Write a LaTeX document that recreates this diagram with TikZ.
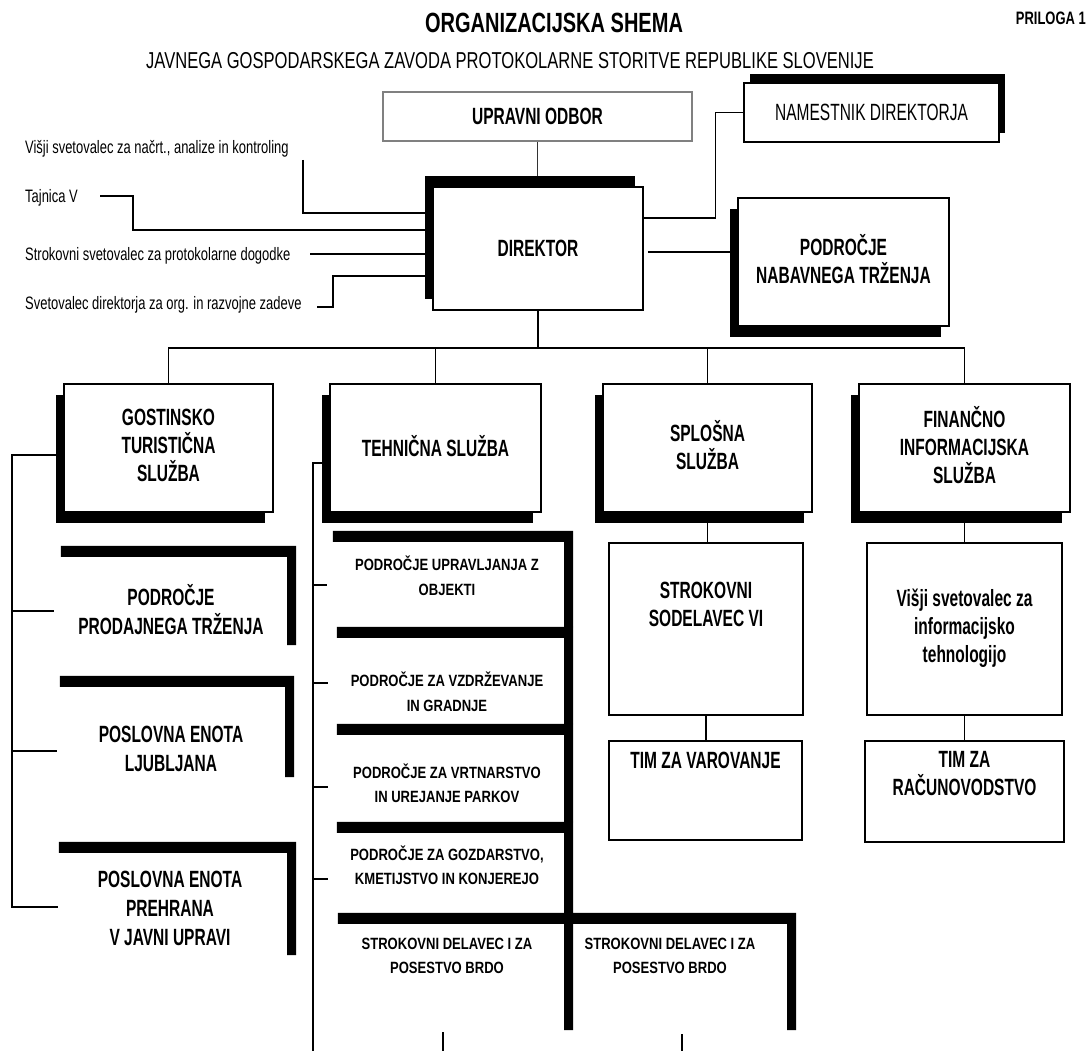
\documentclass[tikz,border=0pt]{standalone}
\usepackage{fontspec}
\setmainfont{Liberation Sans}[FakeStretch=0.72]
\newfontfamily\cellfont{Liberation Sans}[FakeStretch=0.8]
\newfontfamily\boxfont{Liberation Sans}[FakeStretch=0.66]
\usetikzlibrary{shadows,calc}
\pgfdeclarelayer{bg}
\pgfsetlayers{bg,main}
\newcommand\tstr{\rule{0pt}{0.97em}}
\newcommand\bstr{\rule[-0.25em]{0pt}{0.25em}}
\newcommand\lfr[1]{\fill (#1.north west) -- (#1.north east) -- (#1.south east) -- ++(-9,0) |- ($(#1.north west)+(0,11)$) -- cycle;}
\begin{document}
\begin{tikzpicture}[x=1pt,y=-1pt,
  ln/.style={line width=1.3pt},
  txt/.style={inner sep=0pt, align=center, execute at begin node=\tstr, execute at end node=\bstr},
  bigf/.style={font=\boxfont\bfseries\fontsize{23.5}{28}\selectfont},
  lfrf/.style={font=\boxfont\bfseries\fontsize{23.5}{29}\selectfont},
  regf/.style={font=\boxfont\fontsize{23.5}{28}\selectfont},
  labf/.style={font=\fontsize{18}{20}\selectfont},
  cellf/.style={font=\cellfont\bfseries\fontsize{16.3}{24.5}\selectfont},
  wbox/.style={draw, line width=1.5pt, fill=white, inner sep=0pt, align=center, execute at begin node=\tstr, execute at end node=\bstr},
  shdown/.style={drop shadow={shadow xshift=-8pt, shadow yshift=-11pt, fill=black, opacity=1}},
  shupleft/.style={drop shadow={shadow xshift=-8pt, shadow yshift=11pt, fill=black, opacity=1}},
  shupright/.style={drop shadow={shadow xshift=6pt, shadow yshift=9pt, fill=black, opacity=1}},
  fr/.style={inner sep=0pt}
]
\useasboundingbox (0,0) rectangle (1088,1051);

% titles
\node[txt, font=\bfseries\fontsize{27.8}{30}\selectfont] (title) at (554,22) {ORGANIZACIJSKA SHEMA};
\node[txt, anchor=east, font=\bfseries\fontsize{18}{20}\selectfont] (pril) at (1086,18) {PRILOGA 1};
\node[txt, font=\fontsize{23}{25}\selectfont] (sub) at (510,60) {JAVNEGA GOSPODARSKEGA ZAVODA PROTOKOLARNE STORITVE REPUBLIKE SLOVENIJE};

% top boxes
\node[wbox, draw=gray, line width=1.2pt, minimum width=309pt, minimum height=49pt, bigf] (upr) at (537.5,116.5) {UPRAVNI ODBOR};
\node[wbox, shupright, minimum width=255pt, minimum height=59pt, regf] (nam) at (871.5,112.5) {NAMESTNIK DIREKTORJA};
\node[wbox, shupleft, minimum width=210pt, minimum height=123pt, bigf] (dir) at (538,248.5) {DIREKTOR};
\node[wbox, shdown, minimum width=211pt, minimum height=128pt, bigf] (nab) at (843.5,262) {PODROČJE\\NABAVNEGA TRŽENJA};

% left labels
\node[txt, anchor=west, labf] (l1) at (25,147) {Višji svetovalec za načrt., analize in kontroling};
\node[txt, anchor=west, labf] (l2) at (25,196) {Tajnica V};
\node[txt, anchor=west, labf] (l3) at (25,254) {Strokovni svetovalec za protokolarne dogodke};
\node[txt, anchor=west, labf] (l4) at (25,303) {Svetovalec direktorja za org. in razvojne zadeve};

% services
\node[wbox, shdown, minimum width=209pt, minimum height=128pt, bigf] (gos) at (168.5,448) {GOSTINSKO\\TURISTIČNA\\SLUŽBA};
\node[wbox, shdown, minimum width=211pt, minimum height=128pt, bigf] (teh) at (435.5,448) {TEHNIČNA SLUŽBA};
\node[wbox, shdown, minimum width=209pt, minimum height=128pt, bigf] (spl) at (707.5,448) {SPLOŠNA\\SLUŽBA};
\node[wbox, shdown, minimum width=211pt, minimum height=128pt, bigf] (fin) at (964.5,448) {FINANČNO\\INFORMACIJSKA\\SLUŽBA};

% right column boxes
\node[wbox, minimum width=194pt, minimum height=172pt] (sod) at (706,629) {};
\node[txt, bigf] (sodt) at (706,607.5) {STROKOVNI\\SODELAVEC VI};
\node[wbox, minimum width=193pt, minimum height=99pt] (tvar) at (705.5,790.5) {};
\node[txt, bigf] (tvart) at (705.5,760) {TIM ZA VAROVANJE};
\node[wbox, minimum width=195pt, minimum height=172pt, bigf] (vis) at (964.5,629) {Višji svetovalec za\\informacijsko\\tehnologijo};
\node[wbox, minimum width=199pt, minimum height=101pt] (trac) at (964.5,791.5) {};
\node[txt, bigf] (tract) at (964.5,776) {TIM ZA\\RAČUNOVODSTVO};

% left L-frames
\node[fr, minimum width=235pt, minimum height=99pt] (prodajf) at (178.5,595.5) {};
\node[fr, minimum width=234pt, minimum height=101pt] (ljubf) at (177,726.5) {};
\node[fr, minimum width=237pt, minimum height=113pt] (prehf) at (177.5,898.5) {};
\lfr{prodajf}\lfr{ljubf}\lfr{prehf}
\node[txt, lfrf] (prodaj) at (171,612.5) {PODROČJE\\PRODAJNEGA TRŽENJA};
\node[txt, lfrf] (ljub) at (171,752) {POSLOVNA ENOTA\\LJUBLJANA};
\node[txt, lfrf] (preh) at (170,911) {POSLOVNA ENOTA\\PREHRANA\\V JAVNI UPRAVI};

% technical service cells
\node[fr, minimum width=240pt, minimum height=96pt] (t1) at (453,579) {};
\node[fr, minimum width=236pt, minimum height=97pt] (t2) at (455,675.5) {};
\node[fr, minimum width=236pt, minimum height=98pt] (t3) at (455,773) {};
\node[fr, minimum width=236pt, minimum height=91pt] (t4) at (455,867.5) {};
\node[fr, minimum width=235pt, minimum height=117pt] (t5) at (455.5,971.5) {};
\node[fr, minimum width=223pt, minimum height=117pt] (t6) at (684.5,971.5) {};
\lfr{t1}\lfr{t2}\lfr{t3}\lfr{t4}\lfr{t5}\lfr{t6}
\node[txt, cellf] (t1t) at (447,577.5) {PODROČJE UPRAVLJANJA Z\\OBJEKTI};
\node[txt, cellf] (t2t) at (447,693.5) {PODROČJE ZA VZDRŽEVANJE\\IN GRADNJE};
\node[txt, cellf] (t3t) at (447,785) {PODROČJE ZA VRTNARSTVO\\IN UREJANJE PARKOV};
\node[txt, cellf] (t4t) at (447,867) {PODROČJE ZA GOZDARSTVO,\\KMETIJSTVO IN KONJEREJO};
\node[txt, cellf] (t5t) at (447,958) {STROKOVNI DELAVEC I ZA\\POSESTVO BRDO};
\node[txt, cellf] (t6t) at (670,958) {STROKOVNI DELAVEC I ZA\\POSESTVO BRDO};

\coordinate (k1) at (303,160);
\coordinate (k2) at (100,196);
\coordinate (k3) at (310,254);
\coordinate (k4) at (317,307);
\coordinate (gb) at (12,455);
\coordinate (tb) at (313,463);
\coordinate (te) at (313,1051);
\coordinate (b5) at (443,1051);
\coordinate (b6) at (682,1051);

\begin{pgfonlayer}{bg}
\fill[white] (0,0) rectangle (1088,1051);
\draw[ln, draw=black!80] (upr.south) -- (upr.south |- dir.north);
\draw[ln] (dir.east |- 0,218) -| ($(nam.west)+(-28,0)$) -- (nam.west);
\draw[ln] ([xshift=4pt]dir.east |- 0,252) -- (nab.west |- 0,252);
\draw[ln] (k1) |- (dir.west |- 0,213);
\draw[ln] (k2) -- ++(33,0) |- (dir.west |- 0,230);
\draw[ln] (k3) -- (dir.west |- k3);
\draw[ln] (k4) -- ++(16,0) |- (dir.west |- 0,276);
\draw[ln] (dir.south) -- (dir.south |- 0,348);
\draw[ln] (gos.north) -- (gos.north |- 0,348) -| (fin.north);
\draw[ln] (teh.north) -- (teh.north |- 0,348);
\draw[ln] (spl.north) -- (spl.north |- 0,348);
\draw[ln] (gos.west |- gb) -- (gb) |- ([xshift=-1pt]prehf.west |- 0,907);
\draw[ln] (gb |- 0,611) -- ([xshift=-7pt]prodajf.west |- 0,611);
\draw[ln] (gb |- 0,751) -- ([xshift=-3pt]ljubf.west |- 0,751);
\draw[ln] (teh.west |- tb) -- (tb) -- (te);
\draw[ln] (tb |- 0,585) -- ([xshift=-6pt]t1.west |- 0,585);
\draw[ln] (tb |- 0,683) -- ([xshift=-9pt]t2.west |- 0,683);
\draw[ln] (tb |- 0,787) -- ([xshift=-9pt]t3.west |- 0,787);
\draw[ln] (tb |- 0,879) -- ([xshift=-9pt]t4.west |- 0,879);
\draw[ln] ([yshift=-2pt]b5 |- t5.south) -- (b5);
\draw[ln] ([yshift=-4pt]b6 |- t6.south) -- (b6);
\draw[ln] (spl.south) -- (spl.south |- sod.north);
\draw[ln] (sod.south) -- (sod.south |- tvar.north);
\draw[ln] (fin.south) -- (fin.south |- vis.north);
\draw[ln] (vis.south) -- (vis.south |- trac.north);
\end{pgfonlayer}
\end{tikzpicture}
\end{document}
